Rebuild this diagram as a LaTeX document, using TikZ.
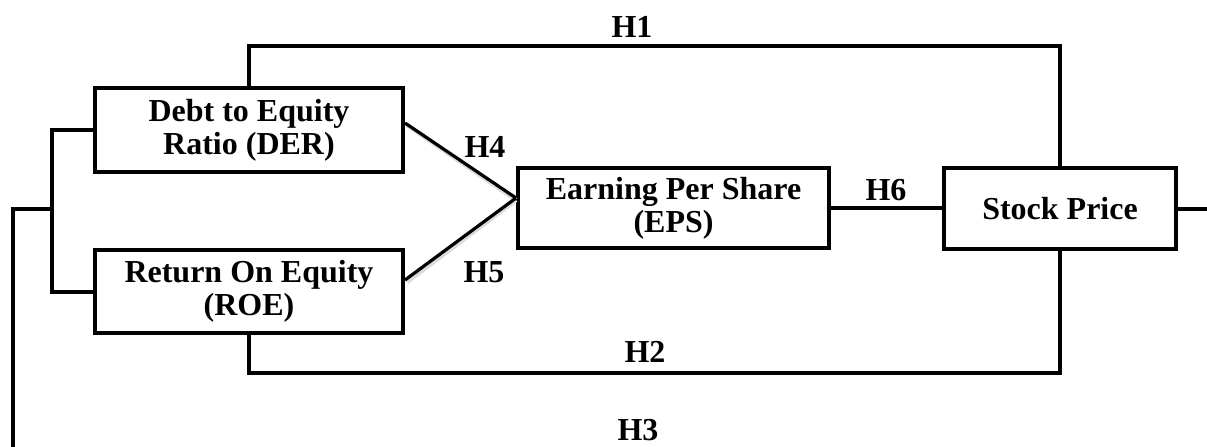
\documentclass[tikz,border=0pt]{standalone}
\usepackage{fontspec}
\setmainfont{Liberation Serif}
\begin{document}
\begin{tikzpicture}[x=0.5pt,y=-0.5pt,
  box/.style={draw,line width=2pt,rectangle,align=center,inner sep=0pt,
    font=\fontsize{16}{16.5}\selectfont\bfseries},
  link/.style={line width=2pt},
  slant/.style={line width=1.6pt},
  shade/.style={line width=2.2pt,black!14},
  lab/.style={font=\fontsize{16}{16}\selectfont\bfseries,inner sep=0pt}]
\useasboundingbox (0,0) rectangle (1207,446);
\node[box,minimum width=154pt,minimum height=42pt] (DER) at (249,130) {Debt to Equity\\Ratio (DER)};
\node[box,minimum width=154pt,minimum height=41.5pt] (ROE) at (249,291.5) {Return On Equity\\(ROE)};
\node[box,minimum width=155.5pt,minimum height=40pt] (EPS) at (673.5,208) {Earning Per Share\\(EPS)};
\node[box,minimum width=116pt,minimum height=40.5pt] (SP) at (1060,208.5) {Stock Price};
\coordinate (h1) at (650,46);
\coordinate (h2) at (650,373);
\coordinate (j) at (52,209);
\coordinate (h3a) at (13,209);
\coordinate (h3b) at (13,452);
\coordinate (out) at (1212,208.5);
\draw[link] (DER.north) |- (h1) -| (SP.north);
\draw[link] (ROE.south) |- (h2) -| (SP.south);
\draw[link] (DER.west) -| (j) |- (ROE.west);
\draw[link] (j) -- (h3a) -- (h3b);
\draw[link] (SP.east) -- (out);
\draw[link] (EPS.east) -- (EPS.east -| SP.west);
\draw[shade] ([shift={(1pt,2.5pt)}]DER.east) -- ([shift={(0pt,4pt)}]EPS.west);
\draw[shade] ([shift={(1pt,4.75pt)}]ROE.east) -- ([shift={(0pt,4pt)}]EPS.west);
\draw[slant] ([yshift=3.5pt]DER.east) -- ([yshift=5pt]EPS.west);
\draw[slant] ([yshift=5.75pt]ROE.east) -- ([yshift=5pt]EPS.west);
\node[lab] (l1) at (632,27) {H1};
\node[lab] (l2) at (645,352) {H2};
\node[lab] (l3) at (638,430) {H3};
\node[lab] (l4) at (485,147) {H4};
\node[lab] (l5) at (484,272) {H5};
\node[lab] (l6) at (886,190) {H6};
\end{tikzpicture}
\end{document}
